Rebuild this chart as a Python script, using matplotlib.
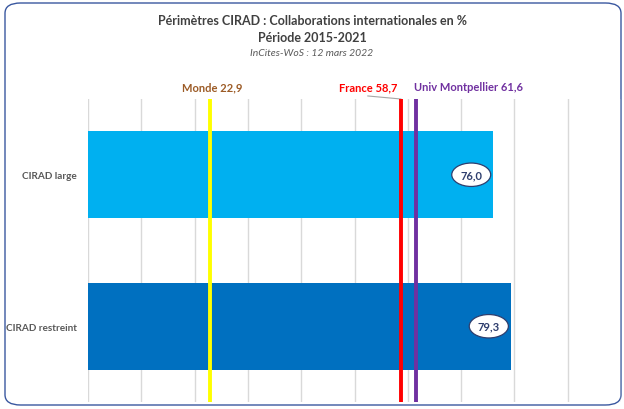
import matplotlib.pyplot as plt
from matplotlib.patches import FancyBboxPatch

plt.rcParams['font.family'] = ['Lato', 'DejaVu Sans']

# Data
categories = ["CIRAD large", "CIRAD restreint"]
values = [76.0, 79.3]
bar_colors = ["#00B0F0", "#0070C0"]

ref_names = ["Monde", "France", "Univ Montpellier"]
ref_values = [22.9, 58.7, 61.6]
ref_line_colors = ["#FFFF00", "#FF0000", "#7030A0"]
ref_text_colors = ["#9C5B26", "#FF0000", "#7030A0"]
ref_text_x = [23.3, 52.5, 71.3]


def fr(v):
    return f"{v:.1f}".replace(".", ",")


fig = plt.figure(figsize=(6.24, 4.10), dpi=100)

# rounded frame around the chart
frame = FancyBboxPatch((5 / 624, 4 / 410), 616 / 624, 402 / 410,
                       boxstyle="round,pad=0,rounding_size=0.025",
                       transform=fig.transFigure, fc="white", ec="#3A58A0",
                       lw=1.0, zorder=-1)
fig.patches.append(frame)

ax = fig.add_axes([88 / 624, 7 / 410, 533 / 624, 303 / 410])
ax.set_zorder(2)
ax.set_facecolor("none")

y = [0, 1]
ax.barh(y, values, height=0.575, color=bar_colors, zorder=2)
ax.set_xlim(0, 100)
ax.set_ylim(1.5, -0.5)
ax.set_xticks(range(0, 101, 10))
ax.set_xticklabels([])
ax.tick_params(axis="x", length=0)
ax.tick_params(axis="y", length=0, pad=8)
ax.set_yticks(y)
ax.set_yticklabels(categories, fontsize=7.2, fontweight="bold", color="#595959")
ax.grid(axis="x", color="#D9D9D9", lw=1, zorder=0)
for s in ax.spines.values():
    s.set_visible(False)

# reference lines
for name, v, lc, tc, tx in zip(ref_names, ref_values, ref_line_colors,
                               ref_text_colors, ref_text_x):
    ax.axvline(v, color=lc, lw=2.8, zorder=3)
    ax.text(tx, -0.58, f"{name} {fr(v)}", ha="center", va="center",
            fontsize=8, fontweight="bold", color=tc)
ax.plot([ref_text_x[1], ref_values[1]], [-0.52, -0.5], color="#A6A6A6",
        lw=0.8, clip_on=False)

# value labels
for i, v in enumerate(values):
    ax.text(v - 4.1, i, fr(v), ha="center", va="center", fontsize=8,
            fontweight="bold", color="#2E3E6E", zorder=5,
            bbox=dict(boxstyle="ellipse,pad=0.25", fc="white",
                      ec="#2E3E6E", lw=0.9))

# titles
fig.text(0.5, 1 - 21 / 410, "Périmètres CIRAD : Collaborations internationales en %",
         ha="center", va="center", fontsize=9, fontweight="bold", color="#404040")
fig.text(0.5, 1 - 38 / 410, "Période 2015-2021", ha="center", va="center",
         fontsize=9, fontweight="bold", color="#404040")
fig.text(0.5, 1 - 54 / 410, "InCites-WoS : 12 mars 2022", ha="center",
         va="center", fontsize=7.5, style="italic", color="#595959")

fig.savefig("out.png", dpi=100)
